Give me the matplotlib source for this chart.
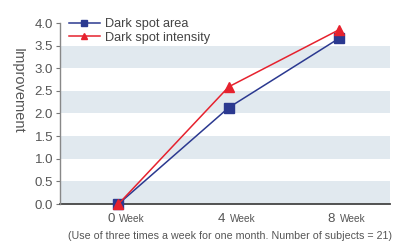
import matplotlib

matplotlib.use("Agg")
import matplotlib.pyplot as plt
from matplotlib.transforms import blended_transform_factory, offset_copy

plt.rcParams["font.family"] = ["Liberation Sans", "DejaVu Sans"]

weeks = [0, 4, 8]
week_labels = ["0", "4", "8"]
area = [0.0, 2.13, 3.66]
intensity = [0.0, 2.59, 3.85]
y_ticks = [0.0, 0.5, 1.0, 1.5, 2.0, 2.5, 3.0, 3.5, 4.0]

BLUE = "#2b3990"
RED = "#e6222e"
BAND = "#e1e9ef"
GREY = "#555555"

fig = plt.figure(figsize=(4.01, 2.45), dpi=100)
ax = fig.add_axes([60 / 401, 1 - 204 / 245, 330 / 401, 181 / 245])

# alternating horizontal bands
for lo in [0.0, 1.0, 2.0, 3.0]:
    ax.axhspan(lo, lo + 0.5, color=BAND, lw=0, zorder=0)

ax.plot(weeks, area, color=BLUE, lw=1.1, marker="s", ms=6.5,
        label="Dark spot area", zorder=3, clip_on=False)
ax.plot(weeks, intensity, color=RED, lw=1.1, marker="^", ms=6.5,
        label="Dark spot intensity", zorder=4, clip_on=False)

ax.set_xlim(-2.12, 9.85)
ax.set_ylim(0, 4.0)
ax.set_yticks(y_ticks)
ax.set_yticklabels([f"{v:.1f}" for v in y_ticks], fontsize=9.5, color=GREY)
ax.tick_params(axis="y", length=3, width=0.8, color="#777777", pad=2)
ax.set_xticks([])

for side in ["top", "right"]:
    ax.spines[side].set_visible(False)
ax.spines["left"].set_color("#888888")
ax.spines["left"].set_linewidth(1.0)
ax.spines["bottom"].set_color("#444444")
ax.spines["bottom"].set_linewidth(1.3)
ax.spines["bottom"].set_zorder(2)

# x labels: big number + small "Week", sharing a baseline
tr = blended_transform_factory(ax.transData, ax.transAxes)
num_tr = offset_copy(tr, fig=fig, x=-4, y=-18, units="dots")
week_tr = offset_copy(tr, fig=fig, x=1, y=-18, units="dots")
for w, lab in zip(weeks, week_labels):
    ax.text(w, 0, lab, transform=num_tr, ha="right", va="baseline",
            fontsize=9.5, color=GREY)
    ax.text(w, 0, "Week", transform=week_tr, ha="left", va="baseline",
            fontsize=7.3, color=GREY)

fig.text(18 / 401, 1 - 91 / 245, "Improvement", rotation=270,
         ha="center", va="center", fontsize=10.5, color=GREY)

fig.text(230 / 401, 1 - 236 / 245,
         "(Use of three times a week for one month. Number of subjects = 21)",
         ha="center", va="center", fontsize=7.7, color=GREY)

leg = ax.legend(loc="upper left", bbox_to_anchor=(0.0, 1.075), frameon=False,
                fontsize=9.2, handlelength=2.4, handletextpad=0.45,
                labelspacing=0.1, borderaxespad=0.3, markerscale=0.75)
for t in leg.get_texts():
    t.set_color("#444444")

fig.savefig("out.png", dpi=100)
